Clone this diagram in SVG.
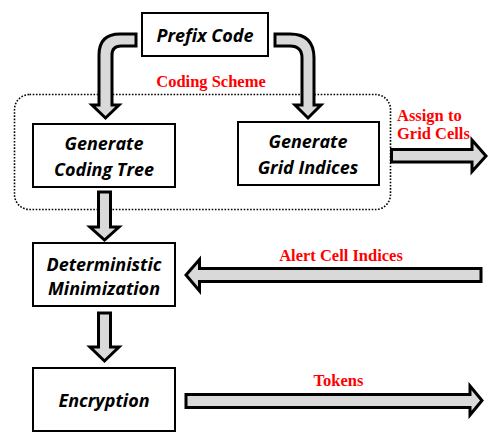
<svg xmlns="http://www.w3.org/2000/svg" width="496" height="441" viewBox="0 0 496 441">
<style>
.box{fill:#fff;stroke:#000;stroke-width:2}
.nt{font-family:"Open Sans","DejaVu Sans",sans-serif;font-weight:bold;font-style:italic;font-size:18px;fill:#000;text-anchor:middle}
.lbl{font-family:"Liberation Serif","Times New Roman",serif;font-weight:bold;font-size:16.5px;fill:#ff0000}
.arr{fill:#d9d9d9;stroke:#000;stroke-width:3;stroke-linejoin:miter;stroke-miterlimit:10}
</style>
<rect width="496" height="441" fill="#fff"/>
<g id="coding-scheme">
<rect x="14.5" y="94.5" width="376" height="115" rx="15" fill="none" stroke="#000" stroke-width="1.6" stroke-dasharray="1.6 1.6"/>
<text class="lbl" x="211" y="87" text-anchor="middle" font-size="17">Coding Scheme</text>
</g>
<g id="prefix-code">
<rect class="box" x="142" y="13" width="126" height="43"/>
<text class="nt" x="205" y="42">Prefix Code</text>
</g>
<g id="coding-tree">
<rect class="box" x="33" y="124" width="142" height="63"/>
<text class="nt" x="104" y="150">Generate</text>
<text class="nt" x="104" y="175.5">Coding Tree</text>
</g>
<g id="grid-indices">
<rect class="box" x="238" y="122" width="141" height="63"/>
<text class="nt" x="308" y="147.5">Generate</text>
<text class="nt" x="308" y="173.5">Grid Indices</text>
</g>
<g id="minimization">
<rect class="box" x="33" y="243" width="142" height="63"/>
<text class="nt" x="104" y="270.5">Deterministic</text>
<text class="nt" x="104" y="295">Minimization</text>
</g>
<g id="encryption">
<rect class="box" x="33" y="368" width="142" height="63"/>
<text class="nt" x="104" y="406.5">Encryption</text>
</g>
<g id="connectors">
<path class="arr" d="M136 34 L120 34 Q99 34 99 55 L99 105 L92 105 L105.5 118 L119 105 L112 105 L112 55 Q112 46 121 46 L136 46 Z"/>
<path class="arr" d="M275 34 L290 34 Q314 34 314 58 L314 105 L321 105 L308 118 L295 105 L302 105 L302 58 Q302 46 290 46 L275 46 Z"/>
<path class="arr" d="M98.5 192 L110.5 192 L110.5 227 L119 227 L104.5 240 L90 227 L98.5 227 Z"/>
<path class="arr" d="M98.5 313 L110.5 313 L110.5 347 L119 347 L104.5 361 L90 347 L98.5 347 Z"/>
<path class="arr" d="M481 268.5 L481 281.5 L199.5 281.5 L199.5 291 L186 275 L199.5 259.5 L199.5 268.5 Z"/>
<path class="arr" d="M186 394.5 L470 394.5 L470 386 L482 400.5 L470 415 L470 407.5 L186 407.5 Z"/>
<path class="arr" d="M391.5 149.5 L472 149.5 L472 140 L486 156 L472 171.5 L472 162 L391.5 162 Z"/>
<text class="lbl" x="341" y="261" text-anchor="middle">Alert Cell Indices</text>
<text class="lbl" x="338.5" y="386" text-anchor="middle">Tokens</text>
<text class="lbl" x="397" y="120.5" font-size="15">Assign to</text>
<text class="lbl" x="397" y="139" font-size="15">Grid Cells</text>
</g>
</svg>
